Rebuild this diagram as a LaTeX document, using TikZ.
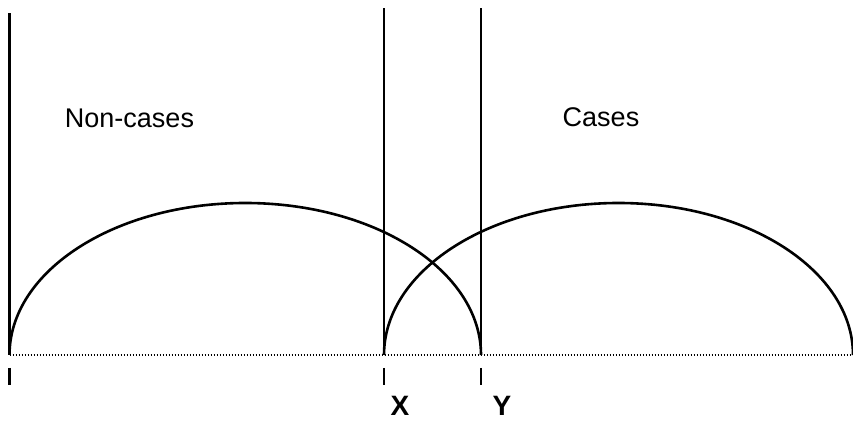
\documentclass[tikz,border=0pt]{standalone}
\usepackage{fontspec}
\setmainfont{Liberation Sans}
\usepackage{tikz}
\usetikzlibrary{arrows.meta,calc,positioning}
\tikzset{
  boundline/.style={black, line width=2.6pt},
  curveline/.style={black, line width=2.6pt},
  axisdots/.style={black, line width=1.8pt, dash pattern=on 1.6pt off 1.4pt},
  tickmark/.style={black, line width=2.4pt},
  grouplabel/.style={anchor=base, inner sep=0pt, font=\fontsize{27}{30}\selectfont},
  cutlabel/.style={anchor=base, inner sep=0pt, font=\bfseries\fontsize{28}{32}\selectfont}
}

\begin{document}
\begin{tikzpicture}[x=1pt,y=1pt]
  \useasboundingbox (0,0) rectangle (853,420);
  % baseline and cut points
  \coordinate (o) at (9.5,65);
  \coordinate (xc) at (384,65);
  \coordinate (yc) at (481,65);
  \coordinate (e) at (853,65);
  \draw[axisdots] (o) -- (e);
  \draw[boundline] (o) -- ++(0,342);
  \draw[boundline] (xc) -- ++(0,347);
  \draw[boundline] (yc) -- ++(0,347);
  \foreach \c in {o,xc,yc}{
    \draw[tickmark] ($(\c)+(0,-13)$) -- ++(0,-17);
  }
  % distributions
  \draw[curveline] (o) arc[start angle=180, end angle=0, x radius=235.75, y radius=152];
  \draw[curveline] (xc) arc[start angle=180, end angle=0, x radius=234.5, y radius=152];
  \node[grouplabel] (noncases) at (129.5,292) {Non-cases};
  \node[grouplabel] (cases) at (601,293) {Cases};
  \node[cutlabel] (xlab) at (400,5) {X};
  \node[cutlabel] (ylab) at (502,5) {Y};
\end{tikzpicture}
\end{document}
